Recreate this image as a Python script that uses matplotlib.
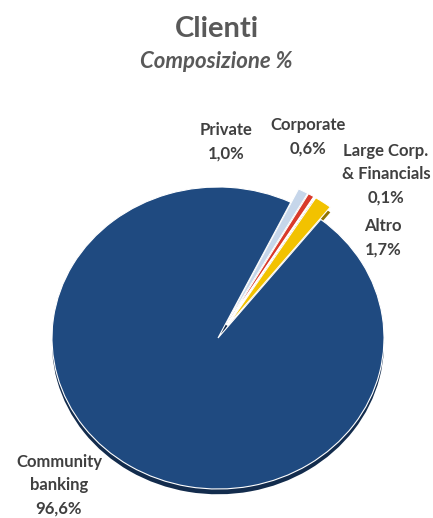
import matplotlib.pyplot as plt
import matplotlib.colors as mcolors

# Customer mix (% of total)
SEGMENTS = ["Private", "Corporate", "Large Corp.\n& Financials", "Altro", "Community\nbanking"]
SHARES = [1.0, 0.6, 0.1, 1.7, 96.6]
COLORS = ["#C6D6EA", "#D93A2B", "#D9D9D9", "#F2C200", "#1F4A80"]
EXPLODE = [0.1, 0.1, 0.1, 0.1, 0.0]

# label anchor points in pixels (x from left, y from top)
LABEL_POS = [(226, 142), (308, 137), (386, 174), (383, 238), (59, 485)]

W, H = 433, 518
CX, CY = 218, 338          # pie centre in pixels
RX, RY = 166, 151          # pie radii in pixels (slight tilt)

fig = plt.figure(figsize=(W / 100, H / 100), dpi=100)
fig.patch.set_facecolor("white")
ax = fig.add_axes([0, 0, 1, 1])

# side of the disc: a darker copy nudged downward
side_colors = [mcolors.to_hex([c * 0.6 for c in mcolors.to_rgb(col)]) for col in COLORS]
ax.pie(SHARES, colors=side_colors, explode=EXPLODE, startangle=64,
       counterclock=False, center=(0, -0.035), radius=1.0,
       wedgeprops=dict(linewidth=0))

ax.pie(SHARES, colors=COLORS, explode=EXPLODE, startangle=64,
       counterclock=False, radius=1.0,
       wedgeprops=dict(linewidth=0.8, edgecolor="white"))

ax.set_aspect("auto")
ax.set_xlim(-CX / RX, (W - CX) / RX)
ax.set_ylim(-(H - CY) / RY, CY / RY)
ax.axis("off")

font = ["Lato", "DejaVu Sans"]
for name, share, (px, py) in zip(SEGMENTS, SHARES, LABEL_POS):
    label = f"{name}\n" + f"{share:.1f}%".replace(".", ",")
    fig.text(px / W, 1 - py / H, label, ha="center", va="center",
             fontsize=12, fontweight="bold", color="#404040",
             family=font, linespacing=1.55)

fig.text(0.5, 1 - 29 / H, "Clienti", ha="center", va="center",
         fontsize=21, fontweight="bold", color="#595959", family=font)
fig.text(0.5, 1 - 62 / H, "Composizione %", ha="center", va="center",
         fontsize=16, fontweight="bold", style="italic", color="#595959",
         family=font)

fig.savefig("out.png", dpi=100, facecolor="white")
